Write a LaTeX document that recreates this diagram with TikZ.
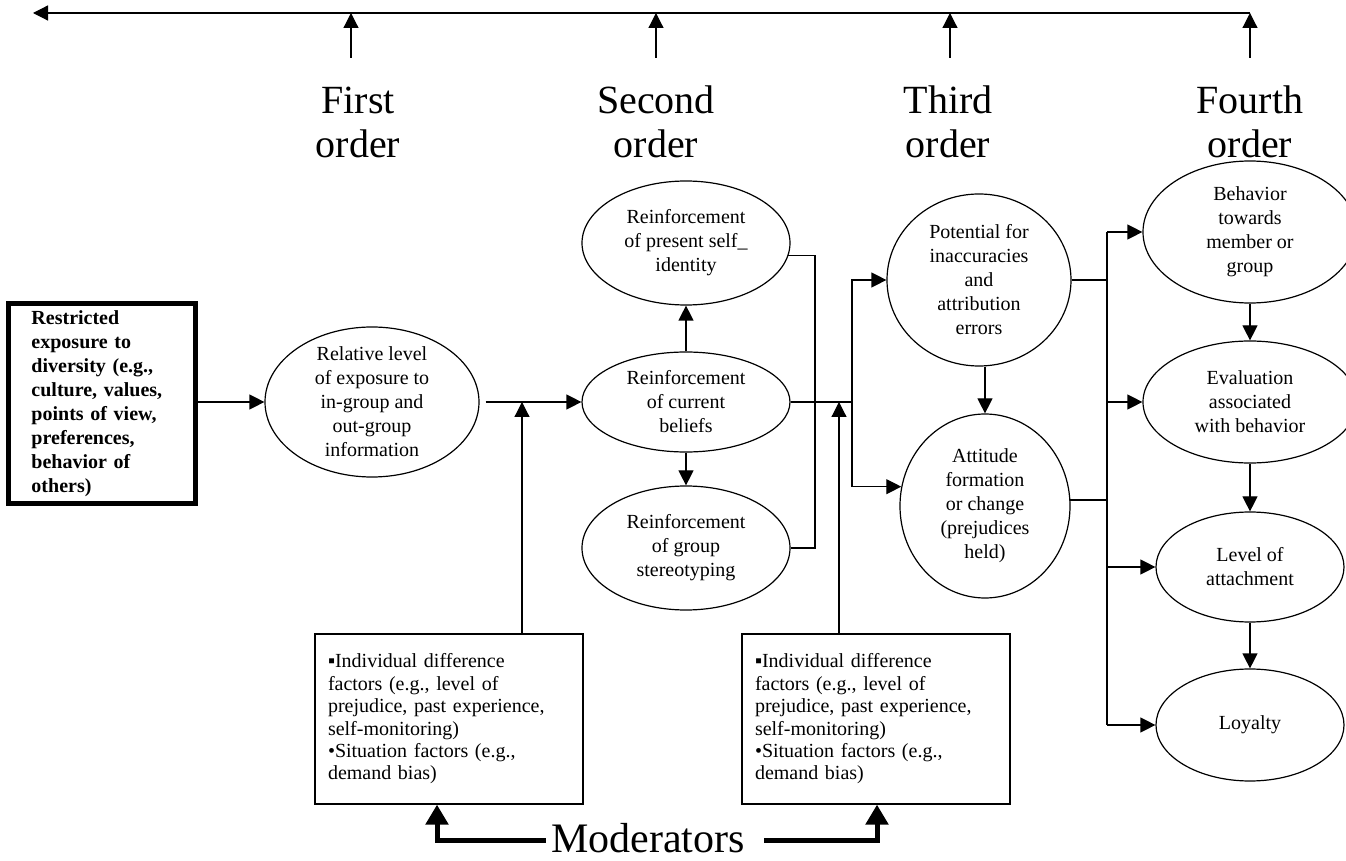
\documentclass[tikz,border=0pt]{standalone}
\usepackage{fontspec}
\setmainfont{Liberation Serif}
\usetikzlibrary{arrows.meta,shapes.geometric,calc}

\begin{document}
\begin{tikzpicture}[x=0.5pt,y=-0.5pt,line width=0.6pt,
  arr/.style={-{Triangle[length=7.5pt,width=7.5pt]}},
  modarr/.style={line width=2.5pt,-{Triangle[length=10pt,width=11pt]}},
  oval/.style={draw,ellipse,inner sep=0pt,align=center,font=\fontsize{10}{12}\selectfont},
  modbox/.style={draw,rectangle,minimum width=134pt,minimum height=85pt,inner sep=0pt,text width=121pt,align=left,font=\fontsize{10}{11.2}\selectfont},
  order/.style={align=center,font=\fontsize{20}{22}\selectfont}]
\useasboundingbox (0,0) rectangle (1346,861);

\coordinate (tl) at (33,13);
\coordinate (tr) at (1250,13);
\draw[arr] (tr) -- (tl);
\coordinate (up1) at (351,58);
\coordinate (up2) at (656,58);
\coordinate (up3) at (950,58);
\coordinate (up4) at (1250,58);
\draw[arr] (up1) -- (up1 |- tl);
\draw[arr] (up2) -- (up2 |- tl);
\draw[arr] (up3) -- (up3 |- tl);
\draw[arr] (up4) -- (up4 |- tl);

\node[order] (first) at (358,122) {First\\order};
\node[order] (second) at (656,122) {Second\\order};
\node[order] (third) at (948,122) {Third\\order};
\node[order] (fourth) at (1250,122) {Fourth\\order};

\node[draw,line width=2.5pt,minimum width=93.5pt,minimum height=100pt,text width=70pt,align=left,inner sep=0pt,font=\bfseries\fontsize{10}{12}\selectfont] (restrict) at (101.5,404) {Restricted\\exposure to\\diversity (e.g.,\\culture, values,\\points of view,\\preferences,\\behavior of\\others)};

\node[oval,inner ysep=-3pt,minimum width=107pt,minimum height=75pt] (exp) at (372,402) {Relative level\\of exposure to\\in-group and\\out-group\\information};
\node[oval,minimum width=104pt,minimum height=62pt] (self) at (686,243) {Reinforcement\\of present self\_\\identity};
\node[oval,minimum width=104pt,minimum height=50pt] (beliefs) at (686,402) {Reinforcement\\of current\\beliefs};
\node[oval,minimum width=104pt,minimum height=62pt] (stereo) at (686,548) {Reinforcement\\of group\\stereotyping};
\node[oval,minimum width=92pt,minimum height=86pt] (errors) at (979,280) {Potential for\\inaccuracies\\and\\attribution\\errors};
\node[oval,minimum width=85pt,minimum height=92pt] (attitude) at (985,506) {Attitude\\formation\\or change\\(prejudices\\held)};
\node[oval,minimum width=107pt,minimum height=71pt] (behav) at (1250,232) {Behavior\\towards\\member or\\group};
\node[oval,minimum width=107pt,minimum height=61pt] (eval) at (1250,402) {Evaluation\\associated\\with behavior};
\node[oval,minimum width=94pt,minimum height=55pt] (attach) at (1250,567) {Level of\\attachment};
\node[oval,minimum width=94pt,minimum height=56pt] (loyal) at (1250,725) {Loyalty};

\node[modbox] (modA) at (449,719) {▪Individual difference\\factors (e.g., level of\\prejudice, past experience,\\self-monitoring)\\•Situation factors (e.g.,\\demand bias)};
\node[modbox] (modB) at (876,719) {▪Individual difference\\factors (e.g., level of\\prejudice, past experience,\\self-monitoring)\\•Situation factors (e.g.,\\demand bias)};
\node[font=\fontsize{21}{24}\selectfont,inner sep=2.5pt] (mods) at (648,838) {Moderators};

\draw[arr] (restrict.east |- exp.west) -- (exp.west);
\draw[arr,shorten <=3pt] (exp.east) -- (beliefs.west);
\coordinate (mjoinA) at (522,402);
\draw[arr] (modA.north -| mjoinA) -- (mjoinA);

\draw[arr] (beliefs) -- (self);
\draw[arr] (beliefs) -- (stereo);
\coordinate (vA) at (815,402);
\draw (self.-7) -| (vA) |- (stereo.east);
\coordinate (jB) at (852,402);
\draw (beliefs.east) -- (jB);
\draw[arr] (jB) |- (errors.west);
\draw[arr] (jB) |- (attitude.167);
\coordinate (mjoinB) at (839,402);
\draw[arr] (modB.north -| mjoinB) -- (mjoinB);

\draw[arr] (errors.south -| attitude) -- (attitude);
\coordinate (vC) at (1107,402);
\draw (errors.east) -- (errors.east -| vC);
\draw (attitude.4) -- (attitude.4 -| vC);
\draw (vC |- behav.west) -- (vC |- loyal.west);
\draw[arr] (vC |- behav.west) -- (behav.west);
\draw[arr] (vC |- eval.west) -- (eval.west);
\draw[arr] (vC |- attach.west) -- (attach.west);
\draw[arr] (vC |- loyal.west) -- (loyal.west);
\draw[arr] (behav) -- (eval);
\draw[arr] (eval) -- (attach);
\draw[arr] (attach) -- (loyal);

\coordinate (mA) at (437,840);
\coordinate (mB) at (877,840);
\draw[modarr] (mods.west |- mA) -- (mA) -- (mA |- modA.south);
\draw[modarr,shorten <=7pt] (mods.east |- mB) -- (mB) -- (mB |- modB.south);
\end{tikzpicture}
\end{document}
